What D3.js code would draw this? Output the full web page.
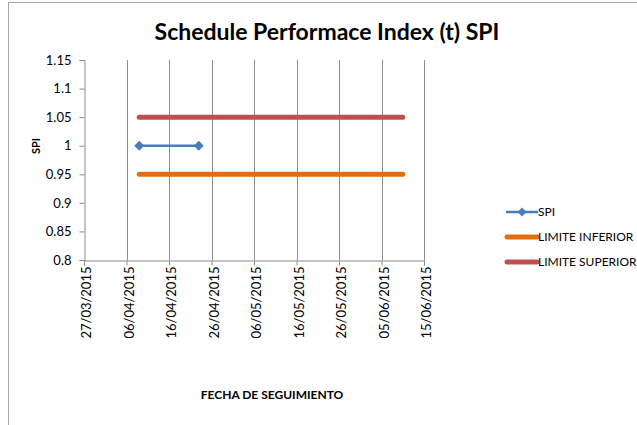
<!DOCTYPE html>
<html>
<head>
<meta charset="utf-8">
<script src="https://cdn.jsdelivr.net/npm/d3@7"></script>
<style>
  body { margin: 0; background: #fff; }
  text { font-family: Lato, "Open Sans", sans-serif; fill: #000; }
</style>
</head>
<body>
<div id="chart"></div>
<script>
const spiDates = ["2015-04-09", "2015-04-23"];
const spiValues = [1, 1];
const limitDates = ["2015-04-09", "2015-06-10"];
const lowerLimit = [0.95, 0.95];
const upperLimit = [1.05, 1.05];
const xTicks = ["2015-03-27", "2015-04-06", "2015-04-16", "2015-04-26", "2015-05-06",
  "2015-05-16", "2015-05-26", "2015-06-05", "2015-06-15"];
const yTicks = [0.8, 0.85, 0.9, 0.95, 1, 1.05, 1.1, 1.15];

const parse = d3.timeParse("%Y-%m-%d");
const fmt = d3.timeFormat("%d/%m/%Y");

const series = [
  { name: "SPI", color: "#4A7EBB", width: 2.5, marker: true,
    pts: spiDates.map((d, i) => ({ date: parse(d), value: spiValues[i] })) },
  { name: "LIMITE INFERIOR", color: "#E46C0A", width: 5, marker: false,
    pts: limitDates.map((d, i) => ({ date: parse(d), value: lowerLimit[i] })) },
  { name: "LIMITE SUPERIOR", color: "#C0504D", width: 5, marker: false,
    pts: limitDates.map((d, i) => ({ date: parse(d), value: upperLimit[i] })) }
];

const svg = d3.select("#chart").append("svg")
  .attr("width", 637)
  .attr("height", 425);

svg.append("rect")
  .attr("x", 8.5).attr("y", 2.5)
  .attr("width", 700).attr("height", 500)
  .attr("fill", "#fff").attr("stroke", "#a6a6a6");

const x = d3.scaleTime()
  .domain([parse(xTicks[0]), parse(xTicks[xTicks.length - 1])])
  .range([84, 424]);
const y = d3.scaleLinear().domain([0.8, 1.15]).range([260, 60]);

// vertical gridlines
svg.append("g").selectAll("line")
  .data(xTicks.slice(1).map(parse))
  .enter().append("line")
  .attr("x1", d => Math.round(x(d)) + 0.5).attr("x2", d => Math.round(x(d)) + 0.5)
  .attr("y1", 60).attr("y2", 260)
  .attr("stroke", "#8c8c8c").attr("stroke-width", 1);

const yAxis = svg.append("g")
  .attr("transform", "translate(84.5,0)")
  .call(d3.axisLeft(y).tickValues(yTicks).tickSize(5).tickPadding(8)
    .tickFormat(d => d3.format("")(+d.toFixed(2))));
yAxis.select(".domain").attr("stroke", "#8c8c8c");
yAxis.selectAll(".tick line").attr("stroke", "#8c8c8c");
yAxis.selectAll("text").attr("font-size", 13);

const xAxis = svg.append("g")
  .attr("transform", "translate(0,260.5)")
  .call(d3.axisBottom(x).tickValues(xTicks.map(parse)).tickSize(5).tickFormat(fmt));
xAxis.select(".domain").attr("stroke", "#8c8c8c");
xAxis.selectAll(".tick line").attr("stroke", "#8c8c8c");
xAxis.selectAll("text")
  .attr("font-size", 13)
  .attr("transform", "rotate(-90)")
  .attr("text-anchor", "end")
  .attr("x", -6).attr("y", 2).attr("dy", "0.35em");

const line = d3.line()
  .x(d => x(d.date))
  .y(d => y(d.value));

const diamond = d3.symbol(d3.symbolSquare, 50);

series.slice().reverse().forEach(s => {
  svg.append("path")
    .datum(s.pts)
    .attr("fill", "none")
    .attr("stroke", s.color)
    .attr("stroke-width", s.width)
    .attr("stroke-linecap", "round")
    .attr("d", line);
  if (s.marker) {
    svg.append("g").selectAll("path")
      .data(s.pts)
      .enter().append("path")
      .attr("d", diamond)
      .attr("transform", d => `translate(${x(d.date)},${y(d.value)}) rotate(45)`)
      .attr("fill", s.color);
  }
});

svg.append("text")
  .attr("x", 327).attr("y", 40)
  .attr("text-anchor", "middle")
  .attr("font-size", 23).attr("font-weight", "bold")
  .text("Schedule Performace Index (t) SPI");

svg.append("text")
  .attr("transform", "translate(40,146) rotate(-90)")
  .attr("text-anchor", "middle")
  .attr("font-size", 11).attr("font-weight", "bold")
  .text("SPI");

svg.append("text")
  .attr("x", 272).attr("y", 399)
  .attr("text-anchor", "middle")
  .attr("font-size", 12).attr("font-weight", "bold")
  .text("FECHA DE SEGUIMIENTO");

const legend = svg.append("g").selectAll("g")
  .data(series)
  .enter().append("g")
  .attr("transform", (d, i) => `translate(507,${212 + i * 25})`);
legend.append("line")
  .attr("x1", 0).attr("x2", 30)
  .attr("stroke", d => d.color)
  .attr("stroke-width", d => d.marker ? 2.5 : 5)
  .attr("stroke-linecap", "round");
legend.filter(d => d.marker).append("path")
  .attr("d", d3.symbol(d3.symbolSquare, 40))
  .attr("transform", "translate(15,0) rotate(45)")
  .attr("fill", d => d.color);
legend.append("text")
  .attr("x", 31).attr("dy", "0.35em")
  .attr("font-size", 12)
  .text(d => d.name);
</script>
</body>
</html>
